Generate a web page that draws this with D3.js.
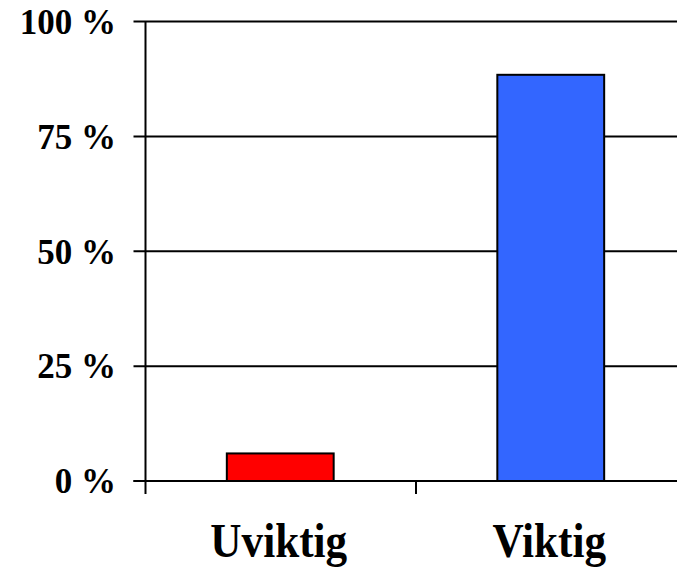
<!DOCTYPE html>
<html><head><meta charset="utf-8">
<script src="https://cdn.jsdelivr.net/npm/d3@7"></script>
<style>body{margin:0;background:#fff}svg{display:block}</style>
</head><body>
<script>
const categories = ["Uviktig", "Viktig"];
const values = [6.0, 88.4];
const colors = ["#ff0000", "#3366ff"];
const yTicks = [0, 25, 50, 75, 100];

const W = 677, H = 568;
const svg = d3.select("body").append("svg").attr("width", W).attr("height", H);
const x0 = 145.5, plotRight = 686.5, yTop = 21.5, yBot = 481;

const x = d3.scaleBand().domain(categories).range([x0, plotRight]).paddingInner(0).paddingOuter(0);
const y = d3.scaleLinear().domain([0, 100]).range([yBot, yTop]);

// gridlines
svg.append("g").selectAll("line").data(yTicks).join("line")
  .attr("x1", x0 - 12).attr("x2", W).attr("y1", d => y(d)).attr("y2", d => y(d))
  .attr("stroke", "#000").attr("stroke-width", 2);

// y axis line
svg.append("line").attr("x1", x0).attr("x2", x0).attr("y1", yTop).attr("y2", yBot + 13)
  .attr("stroke", "#000").attr("stroke-width", 2);

// x ticks at band boundaries
const bounds = categories.map(c => x(c)).concat([x(categories[categories.length-1]) + x.bandwidth()]);
svg.append("g").selectAll("line").data(bounds.slice(1)).join("line")
  .attr("x1", d => d).attr("x2", d => d).attr("y1", yBot).attr("y2", yBot + 13)
  .attr("stroke", "#000").attr("stroke-width", 2);

// bars
const bw = x.bandwidth() * 0.395;
svg.append("g").selectAll("rect").data(categories).join("rect")
  .attr("x", c => x(c) + (x.bandwidth() - bw) / 2 - 0.5)
  .attr("width", bw)
  .attr("y", (c, i) => y(values[i]))
  .attr("height", (c, i) => yBot - y(values[i]))
  .attr("fill", (c, i) => colors[i])
  .attr("stroke", "#000").attr("stroke-width", 2);

// redraw baseline on top
svg.append("line").attr("x1", x0 - 12).attr("x2", W).attr("y1", yBot).attr("y2", yBot)
  .attr("stroke", "#000").attr("stroke-width", 2);

// y labels
svg.append("g").selectAll("text").data(yTicks).join("text")
  .attr("x", 116).attr("y", d => y(d)).attr("dy", "0.35em")
  .attr("text-anchor", "end")
  .attr("font-family", "'Liberation Serif', 'Times New Roman', serif")
  .attr("font-weight", "bold").attr("font-size", 35)
  .text(d => d + " %");

// x labels
svg.append("g").selectAll("text").data(categories).join("text")
  .attr("transform", c => `translate(${x(c) + x.bandwidth()/2 - 2},557) scale(0.9,1)`)
  .attr("text-anchor", "middle")
  .attr("font-family", "'Liberation Serif', 'Times New Roman', serif")
  .attr("font-weight", "bold").attr("font-size", 48)
  .text(c => c);
</script>
</body></html>
